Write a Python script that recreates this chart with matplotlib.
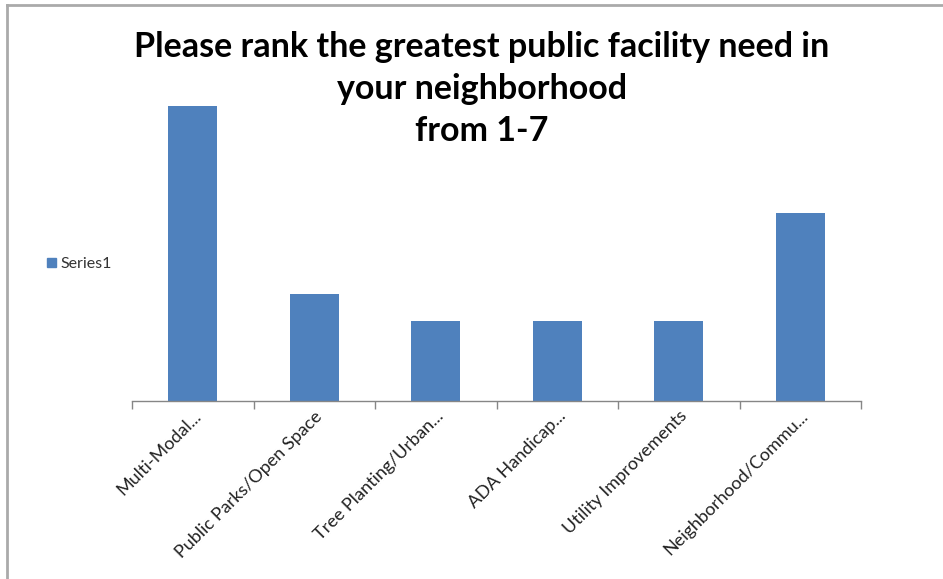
import numpy as np
import matplotlib.pyplot as plt
from matplotlib.lines import Line2D
from matplotlib.patches import Patch

categories = ['Multi-Modal...', 'Public Parks/Open Space', 'Tree Planting/Urban...',
              'ADA Handicap...', 'Utility Improvements', 'Neighborhood/Commu...']
values = [11, 4, 3, 3, 3, 7]
series_name = 'Series1'
title_lines = ['Please rank the greatest public facility need in',
               'your neighborhood', 'from 1-7']

plt.rcParams['font.family'] = ['Lato', 'DejaVu Sans']

W, H = 943, 579
fig = plt.figure(figsize=(W / 100, H / 100), dpi=100)
ax = fig.add_axes([132 / W, 1 - 401 / H, (861 - 132) / W, 322 / H])

x = np.arange(len(categories))
ax.bar(x, values, width=0.4, color='#4F81BD', zorder=2)
ax.set_xlim(-0.5, len(categories) - 0.5)
ax.set_ylim(0, 12)

for s in ['top', 'right', 'left']:
    ax.spines[s].set_visible(False)
ax.spines['bottom'].set_color('#868686')
ax.spines['bottom'].set_linewidth(1.0)
ax.set_yticks([])

ax.set_xticks(x)
ax.set_xticklabels(categories, rotation=45, ha='right', rotation_mode='anchor',
                   fontsize=13, color='#222222')
ax.tick_params(axis='x', which='major', length=0, pad=5)
ax.set_xticks(np.arange(-0.5, len(categories)), minor=True)
ax.tick_params(axis='x', which='minor', length=6, color='#868686', width=1.0, direction='out')

for i, line in enumerate(title_lines):
    fig.text(482 / W, 1 - (47 + 42 * i) / H, line, ha='center', va='center',
             fontsize=24.5, fontweight='bold')

fig.legend(handles=[Patch(color='#4F81BD', label=series_name)], loc='center left',
           bbox_to_anchor=(33 / W, 1 - 264 / H), frameon=False, fontsize=11.5,
           handlelength=0.55, handleheight=0.55, handletextpad=0.3, labelcolor='#333333')

# chart frame (top and left edges visible)
fig.add_artist(Line2D([7 / W, 7 / W], [0, 1 - 5 / H], transform=fig.transFigure,
                      color='#AAAAAA', lw=2))
fig.add_artist(Line2D([7 / W, 1], [1 - 5 / H, 1 - 5 / H], transform=fig.transFigure,
                      color='#AAAAAA', lw=2))

fig.savefig('out.png', dpi=100)
